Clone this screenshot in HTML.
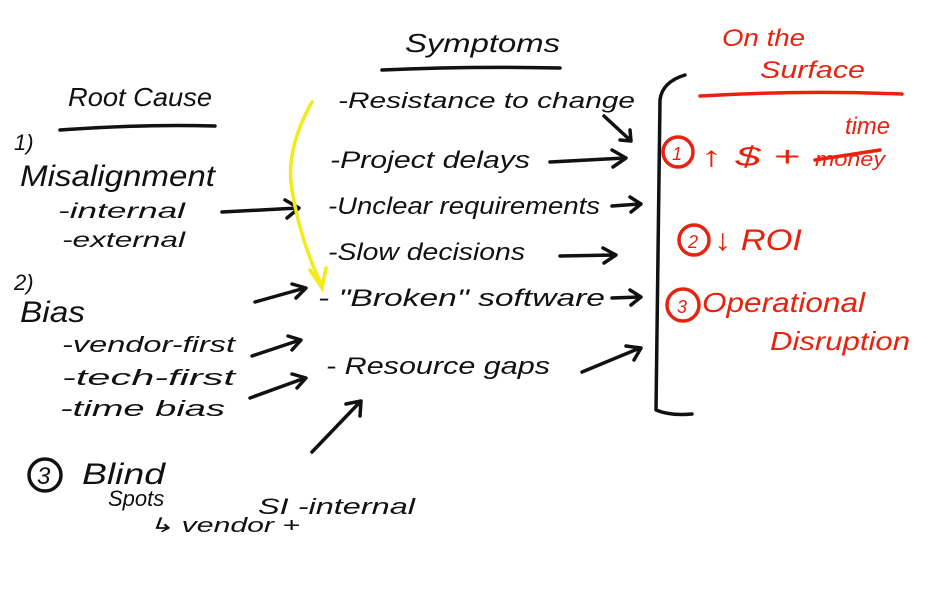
<!DOCTYPE html>
<html><head><meta charset="utf-8"><style>
html,body{margin:0;padding:0;background:#fff;}
svg{display:block}
text{font-family:"Liberation Sans",sans-serif;font-style:italic;}
.k{fill:#111}
.r{fill:#e8220f}
</style></head><body>
<svg width="946" height="616" viewBox="0 0 946 616" xmlns="http://www.w3.org/2000/svg">
<rect width="946" height="616" fill="#fff"/>
<g fill="none" stroke="#111" stroke-width="3.5" stroke-linecap="round" stroke-linejoin="round">
 <path d="M60 130 Q140 124 215 126"/>
 <path d="M382 70 Q470 66 560 68"/>
 <circle cx="45" cy="475" r="16"/>
 <path d="M222 212 L298 208 M285 200 L299 208 L287 218"/>
 <path d="M255 302 L305 288 M292 284 L306 288 L296 298"/>
 <path d="M252 356 L300 340 M288 336 L301 340 L292 350"/>
 <path d="M250 398 L305 378 M292 374 L306 378 L297 388"/>
 <path d="M312 452 L360 402 M346 404 L361 401 L360 416"/>
 <path d="M604 116 L630 140 M620 140 L631 141 L630 130"/>
 <path d="M550 162 L625 158 M612 150 L626 158 L613 167"/>
 <path d="M612 206 L640 204 M630 197 L641 204 L631 212"/>
 <path d="M560 256 L615 255 M603 248 L616 255 L604 263"/>
 <path d="M612 298 L640 297 M630 290 L641 297 L631 305"/>
 <path d="M582 372 L640 348 M626 346 L641 348 L634 360"/>
 <path d="M685 75 Q662 82 660 100 L656 410 Q670 416 692 414"/>
</g>
<path d="M312 102 Q285 150 292 190 Q300 240 322 286 M310 270 L322 288 L326 268" fill="none" stroke="#f2ea1a" stroke-width="3.5" stroke-linecap="round"/>
<g fill="none" stroke="#e8220f" stroke-width="3.5" stroke-linecap="round">
 <path d="M700 96 Q800 90 902 94"/>
 <circle cx="678" cy="152" r="15"/>
 <circle cx="694" cy="240" r="15"/>
 <circle cx="683" cy="305" r="16"/>
 <path d="M815 160 L880 150"/>
</g>
<g class="k" font-size="26">
 <text x="68" y="106" textLength="144" lengthAdjust="spacingAndGlyphs">Root Cause</text>
 <text x="405" y="52" textLength="155" lengthAdjust="spacingAndGlyphs">Symptoms</text>
 <text x="14" y="150" font-size="22">1)</text>
 <text x="20" y="186" font-size="30" textLength="195" lengthAdjust="spacingAndGlyphs">Misalignment</text>
 <text x="58" y="218" font-size="21" textLength="127" lengthAdjust="spacingAndGlyphs">-internal</text>
 <text x="62" y="247" font-size="21" textLength="123" lengthAdjust="spacingAndGlyphs">-external</text>
 <text x="14" y="290" font-size="22">2)</text>
 <text x="20" y="322" font-size="30" textLength="65" lengthAdjust="spacingAndGlyphs">Bias</text>
 <text x="62" y="352" font-size="22" textLength="173" lengthAdjust="spacingAndGlyphs">-vendor-first</text>
 <text x="62" y="385" font-size="22" textLength="173" lengthAdjust="spacingAndGlyphs">-tech-first</text>
 <text x="60" y="416" font-size="22" textLength="165" lengthAdjust="spacingAndGlyphs">-time bias</text>
 <text x="37" y="484" font-size="24" font-style="normal">3</text>
 <text x="82" y="484" font-size="30" textLength="83" lengthAdjust="spacingAndGlyphs">Blind</text>
 <text x="108" y="506" font-size="22">Spots</text>
 <text x="148" y="532" font-size="20" textLength="152" lengthAdjust="spacingAndGlyphs">↳ vendor +</text>
 <text x="258" y="514" font-size="22" textLength="157" lengthAdjust="spacingAndGlyphs">SI -internal</text>
 <text x="338" y="108" font-size="22" textLength="297" lengthAdjust="spacingAndGlyphs">-Resistance to change</text>
 <text x="330" y="168" font-size="24" textLength="200" lengthAdjust="spacingAndGlyphs">-Project delays</text>
 <text x="328" y="214" font-size="24" textLength="272" lengthAdjust="spacingAndGlyphs">-Unclear requirements</text>
 <text x="328" y="260" font-size="24" textLength="197" lengthAdjust="spacingAndGlyphs">-Slow decisions</text>
 <text x="318" y="306" font-size="24" textLength="287" lengthAdjust="spacingAndGlyphs">- "Broken" software</text>
 <text x="326" y="374" font-size="24" textLength="224" lengthAdjust="spacingAndGlyphs">- Resource gaps</text>
</g>
<g class="r">
 <text x="722" y="46" font-size="24" textLength="83" lengthAdjust="spacingAndGlyphs">On the</text>
 <text x="760" y="78" font-size="24" textLength="105" lengthAdjust="spacingAndGlyphs">Surface</text>
 <text x="672" y="160" font-size="18" font-style="normal">1</text>
 <text x="700" y="166" font-size="28" textLength="100" lengthAdjust="spacingAndGlyphs">↑ $ +</text>
 <text x="845" y="134" font-size="24" textLength="45" lengthAdjust="spacingAndGlyphs">time</text>
 <text x="815" y="166" font-size="20" textLength="70" lengthAdjust="spacingAndGlyphs">money</text>
 <text x="688" y="248" font-size="18" font-style="normal">2</text>
 <text x="714" y="250" font-size="30" textLength="88" lengthAdjust="spacingAndGlyphs">↓ ROI</text>
 <text x="677" y="313" font-size="18" font-style="normal">3</text>
 <text x="702" y="312" font-size="28" textLength="163" lengthAdjust="spacingAndGlyphs">Operational</text>
 <text x="770" y="350" font-size="26" textLength="140" lengthAdjust="spacingAndGlyphs">Disruption</text>
</g>
</svg>
</body></html>
